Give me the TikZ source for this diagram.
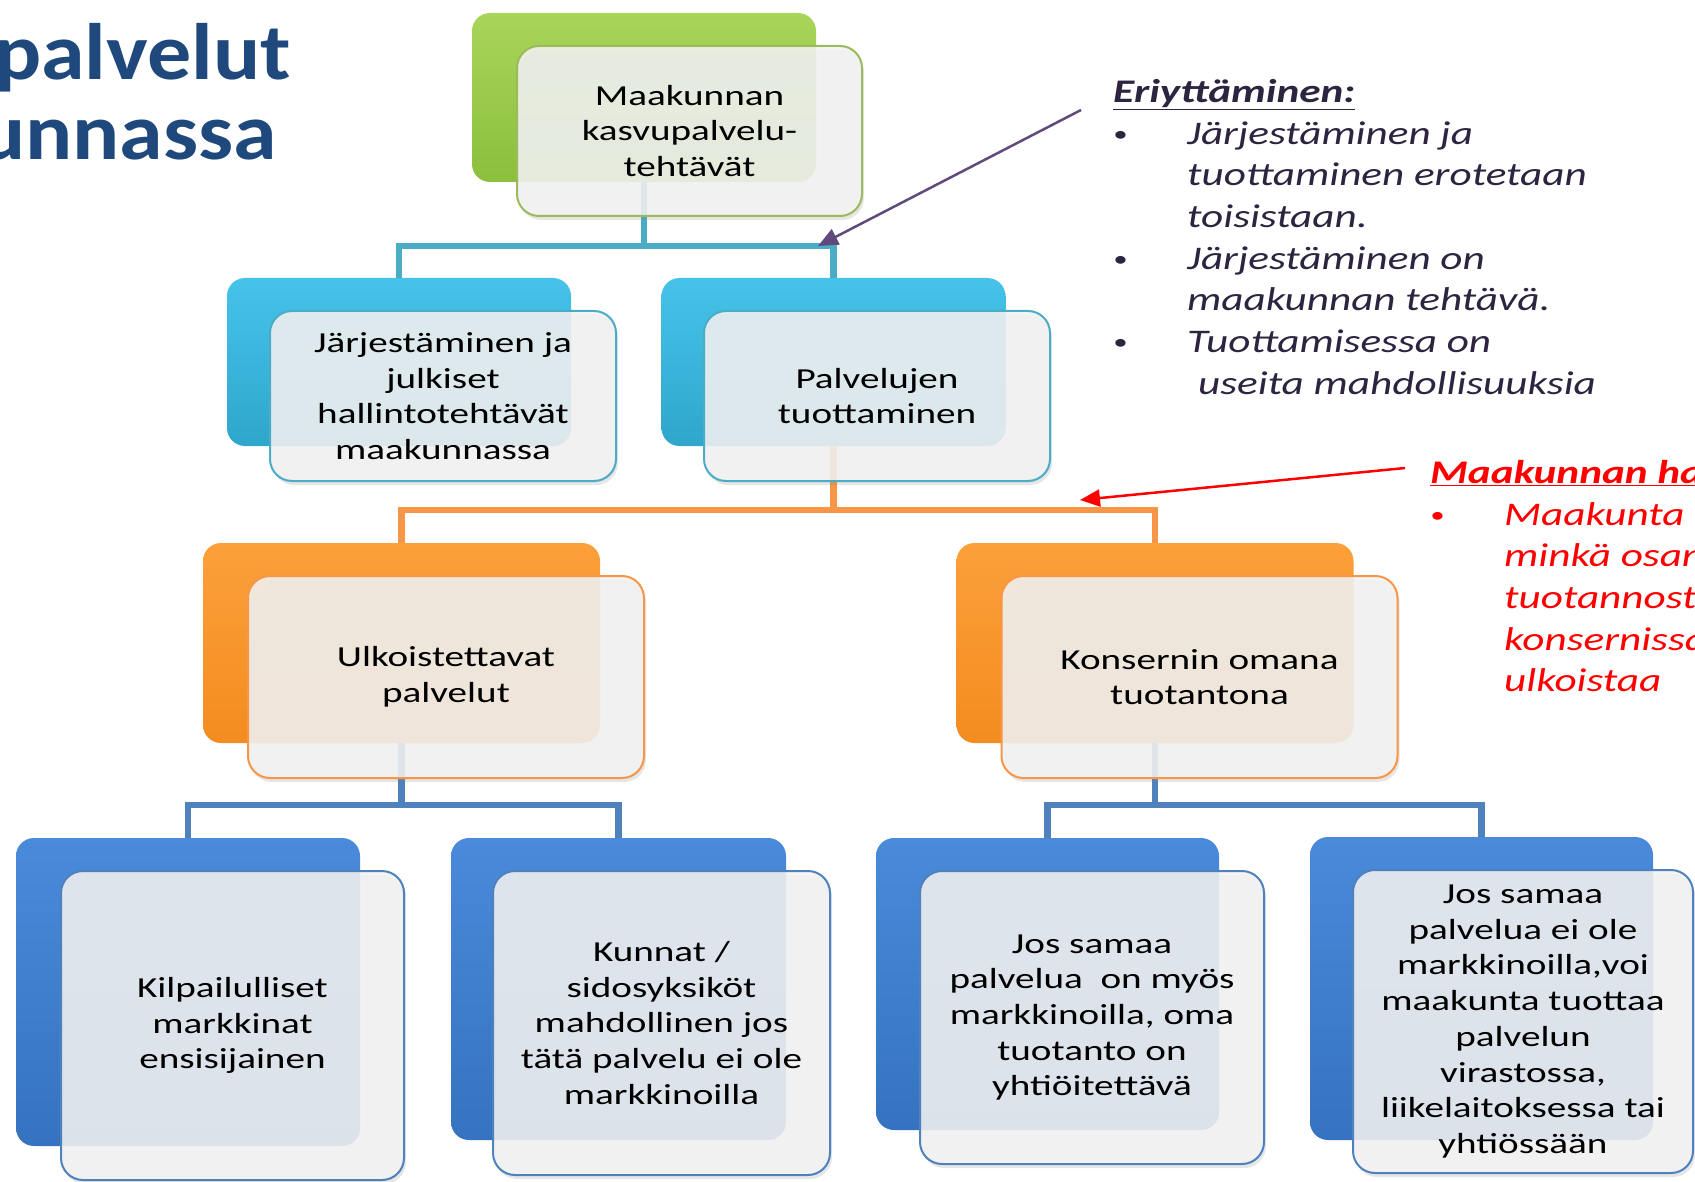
\documentclass[tikz,border=0pt]{standalone}
\usepackage{fontspec}
\setmainfont{Carlito}[FakeStretch=1.35]
\newfontfamily\titlefamily{Carlito}[FakeStretch=1.1]
\newfontfamily\notefamily{Carlito}[FakeStretch=1.31]
\usetikzlibrary{arrows.meta,shadows}

\definecolor{titleblue}{HTML}{1F497D}
\definecolor{notetext}{HTML}{2D2440}
\definecolor{arrowpurple}{HTML}{604A7B}
\definecolor{gtop}{HTML}{A8D55A}
\definecolor{gbot}{HTML}{8BBF3C}
\definecolor{gline}{HTML}{9BBB59}
\definecolor{atop}{HTML}{46C3EA}
\definecolor{abot}{HTML}{2FA6CC}
\definecolor{aline}{HTML}{4BACC6}
\definecolor{otop}{HTML}{FCA03A}
\definecolor{obot}{HTML}{F38C20}
\definecolor{oline}{HTML}{F79646}
\definecolor{btop}{HTML}{4A8ADA}
\definecolor{bbot}{HTML}{3573C0}
\definecolor{bline}{HTML}{4F81BD}

\newcommand{\boxfont}{\fontsize{29}{35.7}\selectfont}
\newcommand{\notefont}{\notefamily\fontsize{33}{41.7}\selectfont\itshape}
\newcommand{\itembul}[1]{\makebox[74pt][l]{\raisebox{3pt}{\fontsize{22}{22}\selectfont\textbullet}}#1}
\newcommand{\itemcont}[1]{\hspace*{74pt}#1}

\begin{document}
\begin{tikzpicture}[x=1pt,y=-1pt,
    backbox/.style 2 args={rounded corners=18pt, top color=#1, bottom color=#2},
    frontbox/.style={draw=#1, line width=2pt, rounded corners=22pt,
      fill=white!95!black, fill opacity=0.88, text opacity=1,
      drop shadow={opacity=0.2, shadow xshift=2pt, shadow yshift=-4pt},
      align=center, font=\boxfont},
    bar/.style={draw=#1, line width=6.5pt},
    arrowline/.style={draw=#1, line width=2.5pt, -{Triangle[length=20pt,width=17pt]}},
    note/.style={anchor=north west, align=left, font=\notefont}]

  \tikzstyle{every node}+=[inner sep=0pt]
  \useasboundingbox (0,0) rectangle (1695,1182);
  \clip (0,0) rectangle (1695,1182);

  \node[anchor=base east, text=titleblue, font=\titlefamily\bfseries\fontsize{80}{80}\selectfont] (title1) at (291,80) {palvelut};
  \node[anchor=base east, text=titleblue, font=\titlefamily\bfseries\fontsize{80}{80}\selectfont] (title2) at (277,160) {unnassa};

  % back boxes
  \node[backbox={gtop}{gbot}, minimum width=344pt, minimum height=169pt] (topback) at (644,97.5) {};
  \node[backbox={atop}{abot}, minimum width=344pt, minimum height=168pt] (jarjback) at (399,362) {};
  \node[backbox={atop}{abot}, minimum width=344pt, minimum height=168pt] (palvback) at (833.5,362) {};
  \node[backbox={otop}{obot}, minimum width=397pt, minimum height=200pt] (ulkoback) at (401.5,643) {};
  \node[backbox={otop}{obot}, minimum width=397pt, minimum height=200pt] (konsback) at (1155,643) {};
  \node[backbox={btop}{bbot}, minimum width=344pt, minimum height=308pt] (kilpback) at (188,992) {};
  \node[backbox={btop}{bbot}, minimum width=335pt, minimum height=302pt] (kunnback) at (618.5,989) {};
  \node[backbox={btop}{bbot}, minimum width=343pt, minimum height=292pt] (josback) at (1047.5,984) {};
  \node[backbox={btop}{bbot}, minimum width=343pt, minimum height=303pt] (eiback) at (1481.5,988.5) {};

  % connectors
  \draw[bar=aline] (topback.south) -- ++(0,64) -| (jarjback.north);
  \draw[bar=aline] (topback.south) -- ++(0,64) -| (palvback.north);
  \draw[bar=oline] (palvback.south) -- ++(0,64) -| (ulkoback.north);
  \draw[bar=oline] (palvback.south) -- ++(0,64) -| (konsback.north);
  \draw[bar=bline] (ulkoback.south) -- ++(0,62) -| (kilpback.north);
  \draw[bar=bline] (ulkoback.south) -- ++(0,62) -| (kunnback.north);
  \draw[bar=bline] (konsback.south) -- ++(0,62) -| (josback.north);
  \draw[bar=bline] (konsback.south) -- ++(0,62) -| (eiback.north);

  % front boxes
  \node[frontbox=gline, minimum width=345pt, minimum height=170pt] (topfront) at (689.5,131) {Maakunnan\\kasvupalvelu-\\tehtävät};
  \node[frontbox=aline, minimum width=346pt, minimum height=170pt] (jarjfront) at (443,396) {Järjestäminen ja\\julkiset\\hallintotehtävät\\maakunnassa};
  \node[frontbox=aline, minimum width=346pt, minimum height=170pt] (palvfront) at (877,396) {Palvelujen\\tuottaminen};
  \node[frontbox=oline, minimum width=396pt, minimum height=202pt] (ulkofront) at (446,677) {Ulkoistettavat\\palvelut};
  \node[frontbox=oline, minimum width=396pt, minimum height=202pt] (konsfront) at (1199.5,677) {Konsernin omana\\tuotantona};
  \node[frontbox=bline, minimum width=343pt, minimum height=309pt] (kilpfront) at (232.5,1025.5) {Kilpailulliset\\markkinat\\ensisijainen};
  \node[frontbox=bline, minimum width=337pt, minimum height=304pt] (kunnfront) at (661.5,1023) {Kunnat /\\sidosyksiköt\\mahdollinen jos\\tätä palvelu ei ole\\markkinoilla};
  \node[frontbox=bline, minimum width=344pt, minimum height=293pt] (josfront) at (1092,1017.5) {Jos samaa\\palvelua\ \ on myös\\markkinoilla, oma\\tuotanto on\\yhtiöitettävä};
  \node[frontbox=bline, minimum width=340pt, minimum height=303pt] (eifront) at (1523,1021.5) {Jos samaa\\palvelua ei ole\\markkinoilla,voi\\maakunta tuottaa\\palvelun\\virastossa,\\liikelaitoksessa tai\\yhtiössään};

  % notes
  \node[note, text=notetext] (erit) at (1113,79) {\underline{\bfseries Eriyttäminen:}\\
    \itembul{Järjestäminen ja}\\
    \itemcont{tuottaminen erotetaan}\\
    \itemcont{toisistaan.}\\
    \itembul{Järjestäminen on}\\
    \itemcont{maakunnan tehtävä.}\\
    \itembul{Tuottamisessa on}\\
    \hspace*{85pt}useita mahdollisuuksia};
  \node[note, text=red] (harkinta) at (1430,460) {\underline{\bfseries Maakunnan ha}\\
    \itembul{Maakunta}\\
    \itemcont{minkä osan}\\
    \itemcont{tuotannosta}\\
    \itemcont{konsernissa}\\
    \itemcont{ulkoistaa}};

  \coordinate (eritstart) at (1081,110);
  \coordinate (eritend) at (818,246);
  \coordinate (harkstart) at (1405,468);
  \coordinate (harkend) at (1080,500);
  \draw[arrowline=arrowpurple] (eritstart) -- (eritend);
  \draw[arrowline=red] (harkstart) -- (harkend);

\end{tikzpicture}
\end{document}
